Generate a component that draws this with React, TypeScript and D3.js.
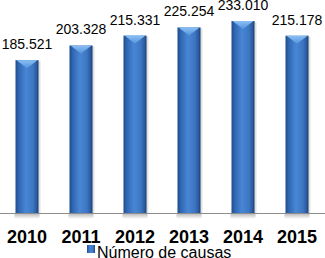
import React from "react";
import * as d3 from "d3";

const years = ["2010", "2011", "2012", "2013", "2014", "2015"];
const values = [185521, 203328, 215331, 225254, 233010, 215178];
const valueLabels = ["185.521", "203.328", "215.331", "225.254", "233.010", "215.178"];
const seriesName = "Número de causas";

export default function App() {
  const W = 325, H = 258;
  const baseY = 213;
  const x = d3.scaleBand<string>().domain(years).range([0, 324]).paddingInner(0.574).paddingOuter(0.287);
  const y = d3.scaleLinear().domain([0, 258500]).range([baseY, 0]);
  const bw = x.bandwidth();
  const font = "'Liberation Sans', Arial, sans-serif";
  return (
    <svg width={W} height={H} style={{ position: "absolute", left: 0, top: 0, background: "#fff" }}>
      <defs>
        <linearGradient id="barG" x1="0" x2="1" y1="0" y2="0">
          <stop offset="0" stopColor="#1d4c8c" />
          <stop offset="0.15" stopColor="#3168b4" />
          <stop offset="0.45" stopColor="#4886d4" />
          <stop offset="0.75" stopColor="#3d77c4" />
          <stop offset="0.92" stopColor="#2a5a9e" />
          <stop offset="1" stopColor="#183c6e" />
        </linearGradient>
        <linearGradient id="capG" x1="0" x2="0" y1="0" y2="1">
          <stop offset="0" stopColor="#8cc0f4" />
          <stop offset="1" stopColor="#5593dc" />
        </linearGradient>
        <linearGradient id="shadowG" x1="0" x2="0" y1="0" y2="1">
          <stop offset="0" stopColor="#000" stopOpacity="0.25" />
          <stop offset="1" stopColor="#000" stopOpacity="0" />
        </linearGradient>
      </defs>
      {years.map((yr, i) => {
        const x0 = x(yr)!;
        const top = y(values[i]);
        const cx = x0 + bw / 2;
        return (
          <g key={yr}>
            <rect x={x0 + 1} y={top + 1} width={bw + 1} height={baseY - top} fill="#000" opacity={0.12} />
            <rect x={x0} y={top} width={bw} height={baseY - top} fill="url(#barG)" />
            <polygon points={`${x0 + 1},${top} ${x0 + bw - 1},${top} ${cx},${top + 8}`} fill="url(#capG)" />
            <rect x={x0 - 1} y={baseY + 1} width={bw + 2} height={5} fill="url(#shadowG)" />
            <text x={cx} y={top - 11} textAnchor="middle" fontFamily={font} fontSize={14} fill="#000">
              {valueLabels[i]}
            </text>
            <text x={cx} y={243} textAnchor="middle" fontFamily={font} fontSize={18} fontWeight="bold" fill="#000">
              {yr}
            </text>
          </g>
        );
      })}
      <line x1={0} x2={325} y1={baseY + 0.5} y2={baseY + 0.5} stroke="#8c8c8c" strokeWidth={1} />
      <rect x={87} y={245} width={8} height={8} fill="url(#barG)" />
      <text x={97} y={258} fontFamily={font} fontSize={16} fill="#000">{seriesName}</text>
    </svg>
  );
}
